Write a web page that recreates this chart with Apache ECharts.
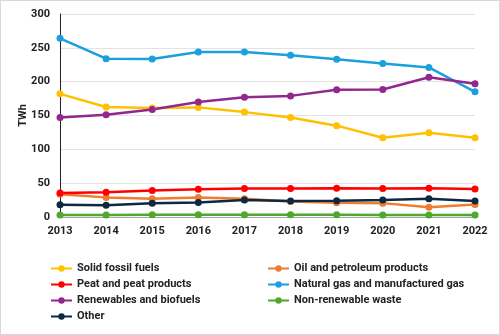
<!DOCTYPE html>
<html><head><meta charset="utf-8">
<script src="https://cdn.jsdelivr.net/npm/echarts@6/dist/echarts.min.js"></script>
<style>html,body{margin:0;padding:0;background:#fff}#c{width:498px;height:333px;border:1px solid #d9d9d9}</style>
</head><body><div id="c"></div>
<script>
const years = ['2013','2014','2015','2016','2017','2018','2019','2020','2021','2022'];
const solidFossil = [182, 162.5, 161, 162, 155, 147, 135, 117, 124.5, 117];
const oilPetroleum = [33.5, 29, 27, 29, 27, 23, 21, 20.5, 14.5, 18.5];
const peat = [35.5, 36.5, 39, 41, 42, 42, 42.5, 42, 42.5, 41.5];
const naturalGas = [264, 234, 233.5, 244, 244, 239, 233, 227, 221, 185];
const renewables = [147, 151, 159, 170, 177, 179, 188, 188.5, 206.5, 197];
const nonRenewWaste = [3, 3, 3.5, 3.5, 3.5, 3.5, 3.5, 3, 3, 3];
const other = [18, 17.5, 20.5, 21.5, 25, 23.5, 24, 25, 27, 23.5];

const names = ['Solid fossil fuels','Oil and petroleum products','Peat and peat products','Natural gas and manufactured gas','Renewables and biofuels','Non-renewable waste','Other'];
const colors = ['#FFC000','#ED7D31','#FF0000','#1AA0DC','#92278F','#4EA72E','#0E2841'];
const datas = [solidFossil, oilPetroleum, peat, naturalGas, renewables, nonRenewWaste, other];
const font = 'Roboto, Liberation Sans, Arial, sans-serif';

const chart = echarts.init(document.getElementById('c'), null, {renderer:'canvas'});
const legendText = {color:'#222', fontSize:11, fontWeight:'bold', fontFamily:font};
chart.setOption({
  animation:false,
  textStyle:{fontFamily:font},
  grid:{left:59, right:24, top:13, bottom:117},
  legend:[
    {data:[names[0],names[2],names[4],names[6]], orient:'vertical', left:44, top:257, itemWidth:21, itemHeight:8, itemGap:5, textStyle:legendText},
    {data:[names[1],names[3],names[5]], orient:'vertical', left:261, top:257, itemWidth:21, itemHeight:8, itemGap:5, textStyle:legendText}
  ],
  xAxis:{type:'category', data:years, boundaryGap:false,
    axisLine:{lineStyle:{color:'#a6a6a6', width:1}}, axisTick:{show:false},
    axisLabel:{color:'#222', fontSize:11, fontWeight:'bold', margin:9, fontFamily:font}},
  yAxis:{type:'value', min:0, max:300, interval:50, name:'TWh', nameLocation:'middle', nameGap:31, nameMoveOverlap:false,
    nameTextStyle:{color:'#222', fontSize:11, fontWeight:'bold', fontFamily:font},
    axisLine:{show:true, lineStyle:{color:'#222', width:1}}, axisTick:{show:false},
    splitLine:{lineStyle:{color:'#e3e3e3', width:1}},
    axisLabel:{color:'#222', fontSize:11, fontWeight:'bold', margin:10, fontFamily:font}},
  series: names.map((n,i)=>({name:n, type:'line', data:datas[i], color:colors[i],
    symbol:'circle', symbolSize:7, lineStyle:{width:2.5, color:colors[i]}, itemStyle:{color:colors[i]}}))
});
</script></body></html>
